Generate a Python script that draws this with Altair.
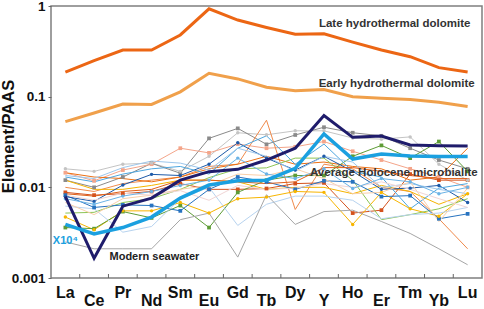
import altair as alt
import pandas as pd

elements = ["La", "Ce", "Pr", "Nd", "Sm", "Eu", "Gd", "Tb", "Dy", "Y", "Ho", "Er", "Tm", "Yb", "Lu"]

# thick reference curves
late_hydro = [0.187, 0.25, 0.327, 0.327, 0.479, 0.93, 0.70, 0.58, 0.487, 0.495, 0.40, 0.327, 0.276, 0.209, 0.187]
early_hydro = [0.053, 0.066, 0.083, 0.082, 0.113, 0.181, 0.157, 0.127, 0.116, 0.120, 0.100, 0.096, 0.093, 0.087, 0.078]
modern_sw = [0.0079, 0.00165, 0.0062, 0.0076, 0.0120, 0.0149, 0.0158, 0.0200, 0.0270, 0.0620, 0.0356, 0.0368, 0.0293, 0.0288, 0.0286]
avg_holocene = [0.0039, 0.00306, 0.0036, 0.0047, 0.0076, 0.0106, 0.0118, 0.0120, 0.0162, 0.0388, 0.0205, 0.0233, 0.0222, 0.0219, 0.0219]

# thin sample curves
t1 = [0.0160, 0.0150, 0.0180, 0.0185, 0.0150, 0.0220, 0.0400, 0.0380, 0.0420, 0.0420, 0.0350, 0.0340, 0.0360, 0.0180, 0.0120]
t2 = [0.0120, 0.0100, 0.0130, 0.0184, 0.0143, 0.0347, 0.0447, 0.0298, 0.0378, 0.0460, 0.0400, 0.0370, 0.0270, 0.0200, 0.0160]
t3 = [0.0145, 0.0118, 0.0155, 0.0180, 0.0270, 0.0240, 0.0300, 0.0270, 0.0280, 0.0320, 0.0250, 0.0200, 0.0160, 0.0130, 0.0100]
t4 = [0.0100, 0.0090, 0.0110, 0.0120, 0.0130, 0.0170, 0.0180, 0.0550, 0.0057, 0.0180, 0.0160, 0.0100, 0.0090, 0.0045, 0.0021]
t5 = [0.0088, 0.0082, 0.0085, 0.0090, 0.0110, 0.0095, 0.0095, 0.0097, 0.0110, 0.0112, 0.0052, 0.0056, 0.0140, 0.0120, 0.0120]
t6 = [0.0145, 0.0130, 0.0125, 0.0115, 0.0130, 0.0160, 0.0180, 0.0220, 0.0180, 0.0190, 0.0170, 0.0160, 0.0120, 0.0130, 0.0270]
t7 = [0.0120, 0.0095, 0.0095, 0.0105, 0.0120, 0.0120, 0.0115, 0.0095, 0.0100, 0.0100, 0.0085, 0.0105, 0.0090, 0.0065, 0.0085]
t8 = [0.0047, 0.0034, 0.0055, 0.0055, 0.0068, 0.0052, 0.0075, 0.0078, 0.0090, 0.0088, 0.0039, 0.0088, 0.0058, 0.0048, 0.0085]
t9 = [0.0036, 0.0035, 0.0054, 0.0046, 0.0063, 0.0036, 0.0088, 0.0120, 0.0135, 0.0135, 0.0220, 0.0290, 0.0210, 0.0320, 0.0150]
t10 = [0.0052, 0.0053, 0.0068, 0.0075, 0.0095, 0.0128, 0.0160, 0.0164, 0.0210, 0.0210, 0.0120, 0.0044, 0.0050, 0.0058, 0.0075]
t11 = [0.0082, 0.0060, 0.0064, 0.0063, 0.0055, 0.0095, 0.0130, 0.0115, 0.0095, 0.0118, 0.0115, 0.0079, 0.0081, 0.0045, 0.0051]
t12 = [0.0079, 0.0070, 0.0106, 0.0139, 0.0135, 0.0180, 0.0310, 0.0210, 0.0155, 0.0220, 0.0150, 0.0095, 0.0098, 0.0105, 0.0068]
t13 = [0.0130, 0.0115, 0.0140, 0.0160, 0.0170, 0.0140, 0.0270, 0.0370, 0.0180, 0.0300, 0.0150, 0.0130, 0.0058, 0.0098, 0.0110]
t14 = [0.0135, 0.0125, 0.0165, 0.0195, 0.0185, 0.0155, 0.0270, 0.0220, 0.0150, 0.0220, 0.0190, 0.0100, 0.0110, 0.0095, 0.0085]
t15 = [0.0062, 0.0058, 0.0032, 0.0037, 0.0075, 0.0100, 0.0038, 0.0065, 0.0080, 0.0080, 0.0072, 0.0045, 0.0050, 0.0052, 0.0060]
t16 = [0.0068, 0.0050, 0.0075, 0.0082, 0.0095, 0.0105, 0.0140, 0.0135, 0.0160, 0.0125, 0.0085, 0.0088, 0.0115, 0.0042, 0.0098]
t17 = [0.0082, 0.0072, 0.0086, 0.0082, 0.0092, 0.0072, 0.0105, 0.0095, 0.0098, 0.0110, 0.0100, 0.0115, 0.0095, 0.0075, 0.0060]
t18 = [0.0025, 0.0021, 0.0021, 0.0021, 0.0044, 0.0052, 0.0017, 0.0083, 0.0039, 0.0054, 0.0056, 0.0042, 0.0031, 0.0021, 0.0014]
t19 = [0.0075, 0.0065, 0.0080, 0.0090, 0.0105, 0.0120, 0.0210, 0.0140, 0.0125, 0.0160, 0.0097, 0.0125, 0.0115, 0.0085, 0.0100]
t20 = [0.0085, 0.0080, 0.0090, 0.0095, 0.0120, 0.0120, 0.0115, 0.0110, 0.0115, 0.0165, 0.0165, 0.0150, 0.0135, 0.0125, 0.0125]

thin_series = [t1, t2, t3, t4, t5, t6, t7, t8, t9, t10, t11, t12, t13, t14, t15, t16, t17, t18, t19, t20]
thin_names = [f"s{i+1}" for i in range(len(thin_series))]
thin_colors = ["#C4C4C4", "#8A8A8A", "#F4A58A", "#F08A4B", "#D4521D", "#EC7014", "#F5B400", "#F7B500",
               "#5E9C36", "#8DC556", "#2773C0", "#1E5AA8", "#4DA6DF", "#9DC7EC", "#B7D3EF", "#F9CFA8",
               "#F1D5D5", "#A6A6A6", "#6BB3E6", "#E0601A"]
thin_marks = ["circle", "square", "square", "", "square", "", "", "circle", "square", "", "square", "circle",
              "", "", "", "", "", "", "circle", ""]

thick_names = ["Late", "Early", "Modern", "Average"]
thick_series = [late_hydro, early_hydro, modern_sw, avg_holocene]
thick_colors = ["#EC6614", "#F0A04B", "#1F1C6B", "#1BA0E0"]
thick_widths = [3, 3, 3, 3.5]

rows = []
for n, s, m in zip(thin_names, thin_series, thin_marks):
    for i, v in enumerate(s):
        rows.append({"series": n, "idx": i, "value": v, "marker": m})
thin_df = pd.DataFrame(rows)

FONT = "Liberation Sans"
W, H = 431, 272

x_enc = alt.X("idx:Q", scale=alt.Scale(domain=[-0.5, 14.5], nice=False, zero=False), axis=None)
y_scale = alt.Scale(type="log", domain=[0.001, 1], nice=False)
y_enc = alt.Y("value:Q", scale=y_scale,
              axis=alt.Axis(values=[0.001, 0.01, 0.1, 1], labelExpr="toString(datum.value)",
                            tickSize=3, tickColor="#666", domain=False, grid=False,
                            labelFont=FONT, labelFontSize=13.5, labelFontWeight="bold", labelColor="#111",
                            labelPadding=3,
                            title="Element/PAAS", titleFont=FONT, titleFontSize=16.5, titleFontWeight="bold",
                            titleColor="#111", titleX=-43, titleY=H / 2 - 6, titleAngle=270,
                            titleBaseline="middle", titleAlign="center"))

color_thin = alt.Color("series:N", scale=alt.Scale(domain=thin_names, range=thin_colors), legend=None)

thin_lines = alt.Chart(thin_df).mark_line(strokeWidth=1).encode(
    x=x_enc, y=y_enc, color=color_thin, detail="series:N", order="idx:Q")

sq_pts = alt.Chart(thin_df).transform_filter("datum.marker == 'square'").mark_point(
    shape="square", filled=True, size=14, opacity=1).encode(x="idx:Q", y="value:Q", color=color_thin)
ci_pts = alt.Chart(thin_df).transform_filter("datum.marker == 'circle'").mark_point(
    shape="circle", filled=True, size=12, opacity=1).encode(x="idx:Q", y="value:Q", color=color_thin)

thick_layers = []
for n, s, c, w in zip(thick_names, thick_series, thick_colors, thick_widths):
    d = pd.DataFrame({"idx": list(range(15)), "value": s})
    thick_layers.append(alt.Chart(d).mark_line(color=c, strokeWidth=w).encode(x="idx:Q", y="value:Q", order="idx:Q"))

# tick marks between categories on the bottom edge
tick_df = pd.DataFrame({"idx": [i + 0.5 for i in range(14)]})
ticks = alt.Chart(tick_df).mark_rule(color="#666", strokeWidth=1).encode(
    x="idx:Q", y=alt.value(H), y2=alt.value(H - 4))

# category labels, alternately staggered
lab_df = pd.DataFrame({"idx": list(range(15)), "name": elements})
lab_even = alt.Chart(lab_df).transform_filter("datum.idx % 2 == 0").mark_text(
    font=FONT, fontSize=16, fontWeight="bold", color="#111", baseline="alphabetic", align="center").encode(
    x="idx:Q", y=alt.value(H + 20), text="name:N")
lab_odd = alt.Chart(lab_df).transform_filter("datum.idx % 2 == 1").mark_text(
    font=FONT, fontSize=16, fontWeight="bold", color="#111", baseline="alphabetic", align="center").encode(
    x="idx:Q", y=alt.value(H + 28), text="name:N")

ann_text = ["Late hydrothermal dolomite", "Early hydrothermal dolomite", "Average Holocene microbialite"]
ann_x = [11.46, 11.53, 11.43]
ann_y = [0.633, 0.138, 0.0145]
ann_df = pd.DataFrame({"text": ann_text, "idx": ann_x, "value": ann_y})
ann = alt.Chart(ann_df).mark_text(font=FONT, fontSize=11.5, color="#333", fontWeight="bold",
                                  baseline="middle", align="center").encode(
    x="idx:Q", y="value:Q", text="text:N")

sw_df = pd.DataFrame({"text": ["Modern seawater"], "idx": [3.1], "value": [0.00172]})
sw_txt = alt.Chart(sw_df).mark_text(font=FONT, fontSize=11, color="#222", fontWeight="bold",
                                    baseline="middle", align="center").encode(
    x="idx:Q", y="value:Q", text="text:N")

x10_df = pd.DataFrame({"text": ["X10⁴"], "idx": [0.0], "value": [0.00256]})
x10_txt = alt.Chart(x10_df).mark_text(font=FONT, fontSize=11, color="#1BA0E0", fontWeight="bold",
                                      baseline="middle", align="center").encode(
    x="idx:Q", y="value:Q", text="text:N")

chart = alt.layer(thin_lines, sq_pts, ci_pts, *thick_layers, ticks, lab_even, lab_odd,
                  ann, sw_txt, x10_txt).properties(
    width=W, height=H,
    padding={"left": 51, "top": 6, "right": 2, "bottom": 31},
    autosize="none",
    background="white",
).configure_view(stroke="#7F7F7F", strokeWidth=1.5)

chart.save("out.html", embed_options={"renderer": "svg", "actions": False})
